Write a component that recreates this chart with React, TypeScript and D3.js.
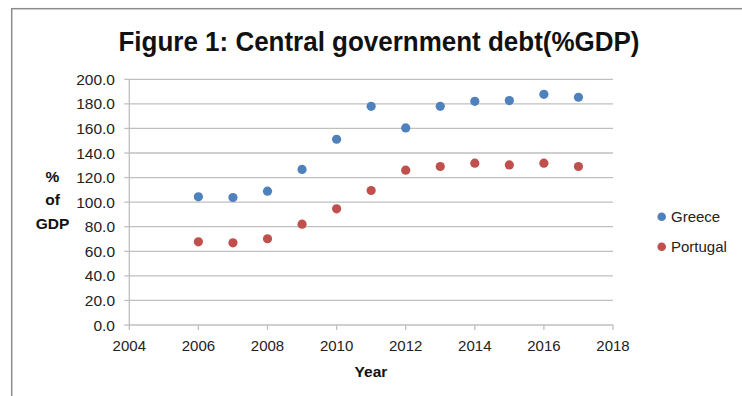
import React from "react";
import * as d3 from "d3";

const years = [2006, 2007, 2008, 2009, 2010, 2011, 2012, 2013, 2014, 2015, 2016, 2017];
const greece = [104.3, 103.8, 108.9, 126.6, 151.2, 178.0, 160.4, 178.0, 182.1, 182.7, 187.8, 185.4];
const portugal = [67.7, 66.9, 70.2, 82.1, 94.6, 109.5, 126.0, 129.0, 131.7, 130.3, 131.7, 129.0];
const xTicks = [2004, 2006, 2008, 2010, 2012, 2014, 2016, 2018];
const yTicks = [0, 20, 40, 60, 80, 100, 120, 140, 160, 180, 200];
const seriesNames = ["Greece", "Portugal"];
const seriesColors = ["#4F81BD", "#C0504D"];
const title = "Figure 1: Central government debt(%GDP)";

const W = 742;
const H = 396;
const FONT = "'Liberation Sans', Arial, sans-serif";

export default function App() {
  const x = d3.scaleLinear().domain([2004, 2018]).range([129.3, 613]);
  const y = d3.scaleLinear().domain([0, 200]).range([325, 79.3]);
  const series = [greece, portugal];
  const grid = "#BFBFBF";
  const txt = "#222";

  return (
    <svg
      width={W}
      height={H}
      style={{ position: "absolute", left: 0, top: 0, background: "#fff" }}
    >
      <rect x={0} y={0} width={W} height={H} fill="#fff" />
      <rect x={11.7} y={8.7} width={W + 20} height={H + 20} fill="none" stroke="#8c8c8c" strokeWidth={1.5} />

      <text
        x={118.5}
        y={51}
        fontFamily={FONT}
        fontWeight="bold"
        fontSize={27}
        fill="#111"
        textLength={521}
        lengthAdjust="spacingAndGlyphs"
      >
        {title}
      </text>

      {yTicks.map((t) => (
        <g key={"y" + t}>
          {t > 0 && (
            <line x1={x(2004)} x2={x(2018)} y1={y(t)} y2={y(t)} stroke={grid} strokeWidth={1.3} />
          )}
          <line x1={x(2004) - 5} x2={x(2004)} y1={y(t)} y2={y(t)} stroke={grid} strokeWidth={1.3} />
          <text
            x={115}
            y={y(t) + 5.5}
            textAnchor="end"
            fontFamily={FONT}
            fontSize={15.5}
            fill={txt}
          >
            {t.toFixed(1)}
          </text>
        </g>
      ))}

      <line x1={x(2004)} x2={x(2004)} y1={y(200)} y2={y(0)} stroke={grid} strokeWidth={1.3} />
      <line x1={x(2004)} x2={x(2018)} y1={y(0)} y2={y(0)} stroke={grid} strokeWidth={1.3} />

      {xTicks.map((t) => (
        <g key={"x" + t}>
          <line x1={x(t)} x2={x(t)} y1={y(0)} y2={y(0) + 5} stroke={grid} strokeWidth={1.3} />
          <text
            x={x(t)}
            y={350.5}
            textAnchor="middle"
            fontFamily={FONT}
            fontSize={15}
            fill={txt}
          >
            {t}
          </text>
        </g>
      ))}

      <text x={371} y={377} textAnchor="middle" fontFamily={FONT} fontWeight="bold" fontSize={15.5} fill="#111">
        Year
      </text>

      <g fontFamily={FONT} fontWeight="bold" fontSize={15.5} fill="#111" textAnchor="middle">
        <text x={52.5} y={181.5}>%</text>
        <text x={52.5} y={204.5}>of</text>
        <text x={52.5} y={228.5}>GDP</text>
      </g>

      {series.map((vals, si) => (
        <g key={"s" + si}>
          {vals.map((v, i) => (
            <circle key={i} cx={x(years[i])} cy={y(v)} r={4.6} fill={seriesColors[si]} />
          ))}
        </g>
      ))}

      {seriesNames.map((n, i) => (
        <g key={"l" + n}>
          <circle cx={661.7} cy={216.7 + i * 30} r={4.3} fill={seriesColors[i]} />
          <text x={671} y={216.7 + i * 30 + 5.5} fontFamily={FONT} fontSize={15} fill={txt}>
            {n}
          </text>
        </g>
      ))}
    </svg>
  );
}
